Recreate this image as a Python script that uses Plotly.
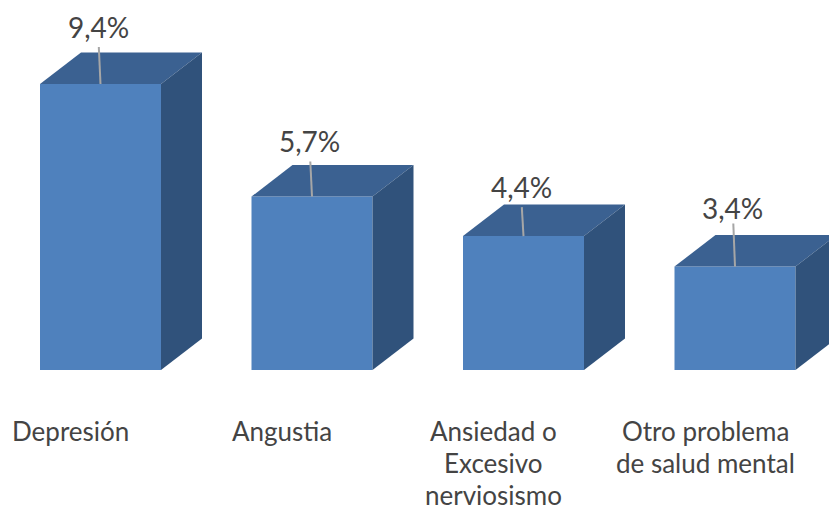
import plotly.graph_objects as go

categories = ["Depresión", "Angustia", "Ansiedad o<br>Excesivo<br>nerviosismo", "Otro problema<br>de salud mental"]
values = [9.4, 5.7, 4.4, 3.4]
value_labels = ["9,4%", "5,7%", "4,4%", "3,4%"]

# label placement (pixels above bar top) and leader-line lengths (pixels)
label_shift = [57, 56, 49, 59]
leader_len = [37, 35, 29, 43]

W, H = 829, 510
x_range = [-100.5 / 211.5, (W - 100.5) / 211.5]
y_range = [(370 - H) / 30.43, 370 / 30.43]
xppu = W / (x_range[1] - x_range[0])
yppu = H / (y_range[1] - y_range[0])

half_w = 60.5 / xppu
dx = 41 / xppu
dy = 31.5 / yppu

FRONT = "#4F81BD"
TOP = "#3B6191"
SIDE = "#30527B"
TEXT = "#444444"
FONT = "Lato, Carlito, Calibri, sans-serif"

fig = go.Figure()
for i, v in enumerate(values):
    x0, x1 = i - half_w, i + half_w
    # front
    fig.add_trace(go.Scatter(x=[x0, x1, x1, x0, x0], y=[0, 0, v, v, 0], fill="toself",
                             fillcolor=FRONT, mode="lines", line=dict(width=0),
                             hoverinfo="skip", showlegend=False))
    # top
    fig.add_trace(go.Scatter(x=[x0, x1, x1 + dx, x0 + dx, x0], y=[v, v, v + dy, v + dy, v],
                             fill="toself", fillcolor=TOP, mode="lines", line=dict(width=0),
                             hoverinfo="skip", showlegend=False))
    # side
    fig.add_trace(go.Scatter(x=[x1, x1 + dx, x1 + dx, x1, x1], y=[0, dy, v + dy, v, 0],
                             fill="toself", fillcolor=SIDE, mode="lines", line=dict(width=0),
                             hoverinfo="skip", showlegend=False))
    # leader line
    fig.add_shape(type="line", xref="x", yref="y", ysizemode="pixel", yanchor=v,
                  x0=i, x1=i - 0.008, y0=0, y1=leader_len[i], line=dict(color="#A6A6A6", width=2))
    # value label
    fig.add_annotation(x=i - 0.01, y=v, yshift=label_shift[i], text=value_labels[i], showarrow=False,
                       font=dict(family=FONT, size=28, color=TEXT), xanchor="center", yanchor="middle")
    # category label lines
    for k, line in enumerate(categories[i].split("<br>")):
        fig.add_annotation(x=i, y=0, xshift=-30, yshift=-(61 + 32 * k), text=line, showarrow=False,
                           font=dict(family=FONT, size=26, color=TEXT), xanchor="center", yanchor="middle")

fig.update_layout(
    width=W, height=H, margin=dict(l=0, r=0, t=0, b=0),
    paper_bgcolor="white", plot_bgcolor="white",
    xaxis=dict(range=x_range, visible=False, fixedrange=True),
    yaxis=dict(range=y_range, visible=False, fixedrange=True),
)
fig.write_html("out.html", config={"displayModeBar": False, "staticPlot": True},
               post_script="document.body.style.margin='0';document.body.style.overflow='hidden';")
